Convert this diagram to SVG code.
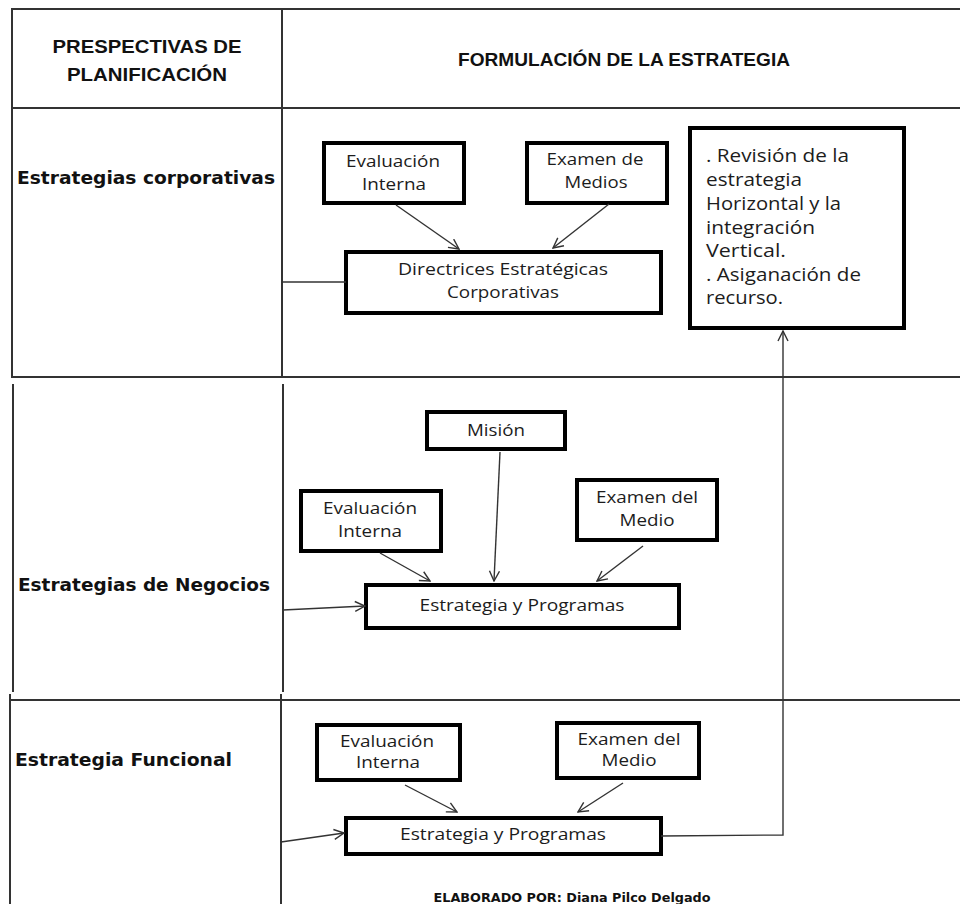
<svg xmlns="http://www.w3.org/2000/svg" width="960" height="904" viewBox="0 0 960 904">
  <style>
    .grid { stroke: #333; stroke-width: 2; fill: none; }
    .box rect { fill: #fff; stroke: #000; stroke-width: 4; }
    .box text { font-family: "Open Sans", "Liberation Sans", sans-serif; font-size: 16.5px; fill: #1c1c1c; text-anchor: middle; }
    .note text { font-family: "Open Sans", "Liberation Sans", sans-serif; font-size: 17.5px; fill: #1c1c1c; }
    .hdr { font-family: "Liberation Sans", Arial, sans-serif; font-weight: bold; font-size: 18px; fill: #111; text-anchor: middle; }
    .row { font-family: "DejaVu Sans", Verdana, sans-serif; font-weight: bold; font-size: 17px; fill: #111; }
    .link { stroke: #333; stroke-width: 1.4; fill: none; }
    .arrow { marker-end: url(#open); }
    .foot { font-family: "DejaVu Sans", Verdana, sans-serif; font-weight: bold; font-size: 12px; fill: #111; text-anchor: middle; }
  </style>
  <defs>
    <marker id="open" viewBox="0 0 12 12" refX="11" refY="6" markerWidth="12" markerHeight="12" markerUnits="userSpaceOnUse" orient="auto">
      <path d="M1,1 L11,6 L1,11" fill="none" stroke="#333" stroke-width="1.4"/>
    </marker>
  </defs>

  <rect width="960" height="904" fill="#fff"/>

  <!-- table grid -->
  <g id="table" class="grid">
    <line x1="11" y1="9" x2="960" y2="9"/>
    <line x1="12" y1="9" x2="12" y2="377"/>
    <line x1="11" y1="108" x2="960" y2="108"/>
    <line x1="282" y1="9" x2="282" y2="377"/>
    <line x1="11" y1="377" x2="960" y2="377"/>
    <line x1="13" y1="384" x2="13" y2="692"/>
    <line x1="283" y1="384" x2="283" y2="692"/>
    <line x1="9" y1="700" x2="960" y2="700"/>
    <line x1="10" y1="694" x2="10" y2="904"/>
    <line x1="281" y1="694" x2="281" y2="904"/>
  </g>

  <!-- headers and row labels -->
  <g id="headers">
    <text class="hdr" x="147" y="53" textLength="189" lengthAdjust="spacingAndGlyphs">PRESPECTIVAS DE</text>
    <text class="hdr" x="147" y="81" textLength="160" lengthAdjust="spacingAndGlyphs">PLANIFICACIÓN</text>
    <text class="hdr" x="624" y="66" font-size="17" textLength="332" lengthAdjust="spacingAndGlyphs">FORMULACIÓN DE LA ESTRATEGIA</text>
  </g>
  <g id="row-labels">
    <text class="row" x="17" y="184" textLength="258" lengthAdjust="spacingAndGlyphs">Estrategias corporativas</text>
    <text class="row" x="18" y="591" textLength="252" lengthAdjust="spacingAndGlyphs">Estrategias de Negocios</text>
    <text class="row" x="15" y="766" textLength="217" lengthAdjust="spacingAndGlyphs">Estrategia Funcional</text>
  </g>

  <!-- corporate level -->
  <g id="corp-eval" class="box">
    <rect x="324" y="143" width="140" height="60"/>
    <text x="393" y="167" textLength="94" lengthAdjust="spacingAndGlyphs">Evaluación</text>
    <text x="394" y="190" textLength="64" lengthAdjust="spacingAndGlyphs">Interna</text>
  </g>
  <g id="corp-medios" class="box">
    <rect x="527" y="143" width="140" height="60"/>
    <text x="595" y="165" textLength="97" lengthAdjust="spacingAndGlyphs">Examen de</text>
    <text x="596" y="188" textLength="63" lengthAdjust="spacingAndGlyphs">Medios</text>
  </g>
  <g id="corp-directrices" class="box">
    <rect x="346" y="252" width="315" height="61"/>
    <text x="503" y="275" textLength="210" lengthAdjust="spacingAndGlyphs">Directrices Estratégicas</text>
    <text x="503" y="298" textLength="112" lengthAdjust="spacingAndGlyphs">Corporativas</text>
  </g>
  <g id="corp-note" class="note">
    <rect x="690" y="128" width="214" height="200" fill="#fff" stroke="#000" stroke-width="4"/>
    <text x="706" y="162" textLength="143" lengthAdjust="spacingAndGlyphs">. Revisión de la</text>
    <text x="706" y="186" textLength="96" lengthAdjust="spacingAndGlyphs">estrategia</text>
    <text x="706" y="210" textLength="135" lengthAdjust="spacingAndGlyphs">Horizontal y la</text>
    <text x="706" y="234" textLength="109" lengthAdjust="spacingAndGlyphs">integración</text>
    <text x="706" y="257" textLength="80" lengthAdjust="spacingAndGlyphs">Vertical.</text>
    <text x="706" y="281" textLength="155" lengthAdjust="spacingAndGlyphs">. Asiganación de</text>
    <text x="706" y="304" textLength="77" lengthAdjust="spacingAndGlyphs">recurso.</text>
  </g>

  <!-- business level -->
  <g id="neg-mision" class="box">
    <rect x="427" y="412" width="138" height="37"/>
    <text x="496" y="436" textLength="58" lengthAdjust="spacingAndGlyphs">Misión</text>
  </g>
  <g id="neg-eval" class="box">
    <rect x="301" y="491" width="140" height="60"/>
    <text x="370" y="514" textLength="94" lengthAdjust="spacingAndGlyphs">Evaluación</text>
    <text x="370" y="537" textLength="64" lengthAdjust="spacingAndGlyphs">Interna</text>
  </g>
  <g id="neg-medio" class="box">
    <rect x="577" y="480" width="140" height="60"/>
    <text x="647" y="503" textLength="102" lengthAdjust="spacingAndGlyphs">Examen del</text>
    <text x="647" y="526" textLength="55" lengthAdjust="spacingAndGlyphs">Medio</text>
  </g>
  <g id="neg-programas" class="box">
    <rect x="366" y="585" width="313" height="43"/>
    <text x="522" y="611" textLength="205" lengthAdjust="spacingAndGlyphs">Estrategia y Programas</text>
  </g>

  <!-- functional level -->
  <g id="fun-eval" class="box">
    <rect x="317" y="725" width="143" height="55"/>
    <text x="387" y="747" textLength="94" lengthAdjust="spacingAndGlyphs">Evaluación</text>
    <text x="388" y="768" textLength="64" lengthAdjust="spacingAndGlyphs">Interna</text>
  </g>
  <g id="fun-medio" class="box">
    <rect x="557" y="723" width="142" height="55"/>
    <text x="629" y="745" textLength="103" lengthAdjust="spacingAndGlyphs">Examen del</text>
    <text x="629" y="766" textLength="55" lengthAdjust="spacingAndGlyphs">Medio</text>
  </g>
  <g id="fun-programas" class="box">
    <rect x="346" y="818" width="315" height="36"/>
    <text x="503" y="840" textLength="206" lengthAdjust="spacingAndGlyphs">Estrategia y Programas</text>
  </g>

  <!-- connectors -->
  <g id="connectors">
    <line class="link arrow" x1="396" y1="205" x2="459" y2="249"/>
    <line class="link arrow" x1="609" y1="204" x2="553" y2="248"/>
    <line class="link" x1="282" y1="282" x2="346" y2="282"/>

    <line class="link arrow" x1="380" y1="553" x2="430" y2="581"/>
    <line class="link arrow" x1="500" y1="452" x2="494" y2="581"/>
    <line class="link arrow" x1="643" y1="546" x2="597" y2="581"/>
    <line class="link arrow" x1="283" y1="610" x2="365" y2="606"/>

    <line class="link arrow" x1="405" y1="785" x2="457" y2="812"/>
    <line class="link arrow" x1="623" y1="783" x2="578" y2="812"/>
    <line class="link arrow" x1="281" y1="842" x2="344" y2="833"/>
    <polyline class="link arrow" points="661,836 783,835 783,331"/>
  </g>

  <text class="foot" x="572" y="902" textLength="277" lengthAdjust="spacingAndGlyphs">ELABORADO POR: Diana Pilco Delgado</text>
</svg>
